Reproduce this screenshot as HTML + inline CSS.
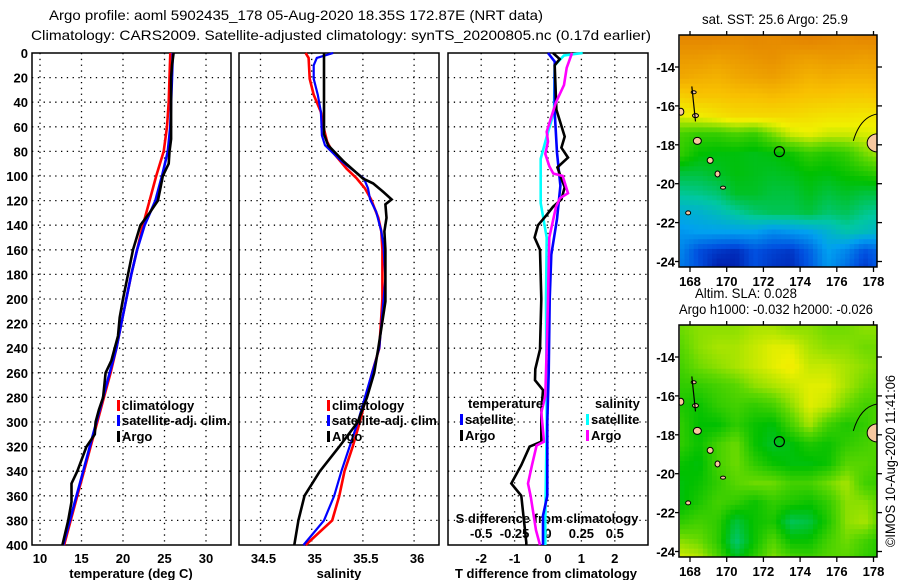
<!DOCTYPE html>
<html><head><meta charset="utf-8">
<style>
html,body{margin:0;padding:0;background:#fff;}
svg{display:block;font-family:"Liberation Sans",Arial,sans-serif;}
.t{font-size:13px;font-weight:bold;fill:#000;}
.ti{font-size:14px;fill:#000;}
</style></head>
<body>
<svg id="fig" width="900" height="580" viewBox="0 0 900 580" xmlns="http://www.w3.org/2000/svg">
<defs>
<clipPath id="clip-sst-map"><rect x="679" y="35" width="198" height="232"/></clipPath>
<clipPath id="clip-sla-map"><rect x="679" y="325" width="198" height="232"/></clipPath>
</defs>
<text class="ti" x="49" y="20" textLength="494" lengthAdjust="spacingAndGlyphs">Argo profile: aoml 5902435_178 05-Aug-2020 18.35S 172.87E (NRT data)</text>
<text class="ti" x="31" y="40" textLength="620" lengthAdjust="spacingAndGlyphs">Climatology: CARS2009. Satellite-adjusted climatology: synTS_20200805.nc (0.17d earlier)</text>
<text class="ti" x="702" y="24" textLength="146" lengthAdjust="spacingAndGlyphs">sat. SST: 25.6 Argo: 25.9</text>
<text class="ti" x="695" y="298" textLength="102" lengthAdjust="spacingAndGlyphs">Altim. SLA: 0.028</text>
<text class="ti" x="679" y="314" textLength="194" lengthAdjust="spacingAndGlyphs">Argo h1000: -0.032 h2000: -0.026</text>
<text class="ti" transform="translate(895,547) rotate(-90)" x="0" y="0" textLength="172" lengthAdjust="spacingAndGlyphs">©IMOS 10-Aug-2020 11:41:06</text>
<g id="plots"></g>
</svg>
<script>
// ---------- data ----------
const depthTicks=[0,20,40,60,80,100,120,140,160,180,200,220,240,260,280,300,320,340,360,380,400];
const tempTicks=[10,15,20,25,30];
const salTicks=[34.5,35,35.5,36];
const salTickLabels=["34.5","35","35.5","36"];
const tdiffTicks=[-2,-1,0,1,2];
const sdiffTicks=[-0.5,-0.25,0,0.25,0.5];
const sdiffTickLabels=["-0.5","-0.25","0","0.25","0.5"];

const tClimD=[0,20,40,60,80,100,120,140,160,180,200,220,240,260,280,300,320,340,360,380,400];
const tClimV=[25.7,25.6,25.5,25.3,24.9,24.0,23.2,22.4,21.7,21.0,20.4,19.8,19.2,18.5,17.7,16.9,16.1,15.3,14.5,13.7,12.9];
const tSatD=[0,20,40,60,80,100,120,140,160,180,200,220,240,260,280,300,320,340,360,380,400];
const tSatV=[26.0,25.9,25.8,25.7,25.4,24.7,23.9,22.6,21.7,21.0,20.4,19.8,19.2,18.4,17.6,16.8,16.0,15.2,14.4,13.6,12.8];
const tArgoD=[0,10,20,40,60,70,80,90,100,110,120,130,140,160,180,200,215,230,250,260,280,290,300,310,320,340,350,365,380,400];
const tArgoV=[26.1,25.9,25.8,25.8,25.8,25.8,25.6,25.5,24.8,24.5,24.2,23.2,22.1,21.2,20.6,20.0,19.6,19.4,18.6,17.9,17.6,17.1,16.7,16.6,15.6,14.5,13.8,13.8,13.4,12.7];

const sClimD=[0,4,21,34,48,62,72,80,94,102,110,119,134,145,160,200,240,260,280,300,320,340,360,380,400];
const sClimV=[34.94,34.97,34.98,35.02,35.09,35.12,35.15,35.2,35.34,35.44,35.52,35.58,35.65,35.68,35.69,35.69,35.66,35.59,35.53,35.47,35.40,35.32,35.27,35.2,34.94];
const sSatD=[0,4,10,21,34,48,67,75,88,102,110,119,129,145,156,183,202,240,260,280,300,320,340,360,380,400];
const sSatV=[35.21,35.05,35.02,35.02,35.06,35.09,35.1,35.13,35.29,35.51,35.55,35.57,35.63,35.68,35.70,35.72,35.70,35.66,35.59,35.52,35.45,35.37,35.29,35.22,35.12,34.92];
const sArgoD=[0,66,75,88,102,106,113,119,123,134,145,160,202,240,260,280,300,320,340,360,380,400];
const sArgoV=[35.12,35.12,35.16,35.31,35.5,35.6,35.7,35.78,35.72,35.73,35.71,35.72,35.72,35.65,35.61,35.54,35.45,35.27,35.08,34.93,34.87,34.83];

const dtArgoD=[0,5,10,46,68,77,85,93,102,109,119,125,132,140,150,160,200,241,257,266,274,292,316,320,335,350,360,373,385,398,400];
const dtArgoV=[0.15,0.35,0.2,0.25,0.5,0.4,0.6,0.28,0.4,0.5,0.4,0.15,-0.05,-0.3,-0.4,-0.24,-0.2,-0.24,-0.38,-0.39,-0.15,-0.2,-0.2,-0.55,-0.8,-1.1,-0.8,-0.75,-0.7,-0.65,-0.65];
const dtSatD=[0,7,48,81,108,135,164,200,260,300,360,376,400];
const dtSatV=[0,0.2,0.2,0.27,0.37,0.27,0.1,0.05,0.02,-0.02,-0.02,-0.15,-0.15];
const dsSatD=[0,2,10,48,68,86,122,150,200,300,380,400];
const dsSatV=[0.26,0.12,0.05,0.045,-0.01,-0.055,-0.055,-0.01,-0.015,-0.01,-0.02,-0.02];
const dsArgoD=[0,12,26,40,64,72,82,92,98,100,114,118,125,150,200,240,279,292,316,319,335,350,360,388,400];
const dsArgoV=[0.18,0.14,0.12,0.06,-0.01,0.0,-0.02,0.01,0.04,0.11,0.15,0.09,0.06,0.01,0.0,-0.01,-0.02,-0.05,-0.03,-0.085,-0.12,-0.15,-0.13,-0.09,-0.06];

const sstGrid=[
[.97,.97,.97,.96,.97,.96,.97,.98,.97,.96,.97,.97],
[.93,.93,.92,.93,.94,.95,.93,.92,.93,.93,.92,.93],
[.9,.89,.88,.9,.91,.92,.9,.88,.89,.88,.88,.89],
[.82,.84,.84,.85,.85,.86,.85,.84,.84,.83,.83,.84],
[.74,.76,.78,.8,.8,.8,.8,.79,.78,.78,.77,.78],
[.62,.6,.6,.62,.6,.66,.72,.74,.72,.72,.73,.74],
[.6,.55,.54,.54,.53,.54,.56,.6,.58,.6,.66,.7],
[.5,.5,.52,.54,.53,.52,.53,.55,.54,.56,.58,.6],
[.43,.44,.46,.52,.52,.5,.5,.53,.5,.52,.5,.5],
[.34,.35,.38,.42,.46,.48,.48,.5,.46,.48,.44,.42],
[.28,.3,.3,.3,.3,.26,.28,.3,.35,.4,.38,.35],
[.25,.14,.1,.08,.15,.12,.1,.18,.3,.25,.15,.2],
[.22,.15,.05,.06,.15,.1,.08,.16,.28,.2,.1,.18]];
const slaGrid=[
[.66,.68,.68,.68,.7,.7,.68,.68,.66,.66,.68,.68],
[.64,.68,.7,.7,.72,.74,.74,.70,.68,.68,.66,.66],
[.62,.66,.68,.7,.72,.74,.76,.72,.72,.7,.68,.66],
[.6,.6,.62,.64,.68,.7,.72,.74,.74,.7,.66,.64],
[.58,.56,.6,.62,.6,.62,.68,.74,.72,.66,.62,.62],
[.6,.55,.55,.6,.56,.54,.62,.7,.62,.58,.6,.64],
[.6,.56,.62,.66,.56,.52,.54,.58,.56,.6,.62,.64],
[.56,.54,.62,.66,.6,.56,.54,.54,.56,.64,.64,.62],
[.54,.56,.6,.64,.66,.66,.62,.62,.66,.7,.62,.6],
[.54,.58,.62,.6,.56,.6,.58,.56,.6,.68,.68,.64],
[.6,.62,.6,.5,.56,.58,.48,.5,.58,.68,.7,.64],
[.68,.66,.6,.46,.56,.64,.56,.56,.62,.66,.62,.58],
[.74,.72,.64,.54,.6,.68,.64,.62,.64,.64,.6,.58]];
const floatLon=[172.87];
const floatLat=[-18.35];
const mapLatTicks=[-14,-16,-18,-20,-22,-24];
const mapLonTicks=[168,170,172,174,176,178];

// ---------- helpers ----------
const NS='http://www.w3.org/2000/svg';
const root=document.getElementById('plots');
function mk(tag,attrs,parent){const e=document.createElementNS(NS,tag);for(const k in attrs)e.setAttribute(k,attrs[k]);(parent||root).appendChild(e);return e;}
const Y0=53,YS=1.23;
const yD=d=>Y0+d*YS;
const xT=t=>40+(t-10)*8.3;
const xS=s=>311.7+(s-35)*102.4;
const xDT=t=>548+t*33.4;
const xDS=s=>548+s*133.6;

function panel(x0,x1,xticks,xf,name){
  const g=mk('g',{});
  
  
  depthTicks.forEach(d=>{if(d>0&&d<400){const l=mk('line',{x1:x0,x2:x1,y1:yD(d),y2:yD(d),stroke:'#000','stroke-width':1.3,'stroke-dasharray':'1.3,4.5'},g);
    }});
  xticks.forEach(v=>{const x=xf(v);const l=mk('line',{x1:x,x2:x,y1:yD(0),y2:yD(400),stroke:'#000','stroke-width':1.3,'stroke-dasharray':'1.3,4.5'},g);
    });
  const r=mk('rect',{x:x0,y:yD(0),width:x1-x0,height:yD(400)-yD(0),fill:'none',stroke:'#000','stroke-width':1.5},g);
  
  return g;
}
function line(D,V,xf,color,name,w){
  const pts=D.map((d,i)=>xf(V[i]).toFixed(1)+','+yD(d).toFixed(1)).join(' ');
  const p=mk('polyline',{points:pts,fill:'none',stroke:color,'stroke-width':w||2.6,'stroke-linejoin':'miter'});
  
  
}
function txt(x,y,s,anchor,name,cls){
  const t=mk('text',{x:x,y:y,'text-anchor':anchor||'start',class:cls||'t'});
  t.textContent=s;
  
  
  return t;
}
function legend(x,y,color,label){
  const r=mk('rect',{x:x,y:y-10,width:3,height:11,fill:color});
  
  
  txt(x+5,y,label,'start','legend-entry');
}

depthTicks.forEach(d=>txt(28,yD(d)+5,String(d),'end','y-tick-label'));

// panel 1 temperature
panel(32,231,tempTicks,xT,'temperature-panel');
tempTicks.forEach(v=>txt(xT(v),563,String(v),'middle','temp-tick-label'));
txt(131,578,'temperature (deg C)','middle','temp-axis-title');
line(tClimD,tClimV,xT,'#ff0000','temp-climatology-line');
line(tSatD,tSatV,xT,'#0000ff','temp-satellite-line');
line(tArgoD,tArgoV,xT,'#000000','temp-argo-line');
legend(117,410,'#ff0000','climatology');
legend(117,425,'#0000ff','satellite-adj. clim.');
legend(117,441,'#000000','Argo');

// panel 2 salinity
panel(239,439,salTicks,xS,'salinity-panel');
salTicks.forEach((v,i)=>txt(xS(v)+3,563,salTickLabels[i],'middle','sal-tick-label'));
txt(339,578,'salinity','middle','sal-axis-title');
line(sClimD,sClimV,xS,'#ff0000','sal-climatology-line');
line(sSatD,sSatV,xS,'#0000ff','sal-satellite-line',2.2);
line(sArgoD,sArgoV,xS,'#000000','sal-argo-line');
legend(327,410,'#ff0000','climatology');
legend(327,425,'#0000ff','satellite-adj. clim.');
legend(327,441,'#000000','Argo');

// panel 3 differences
panel(448,648,tdiffTicks,xDT,'difference-panel');
tdiffTicks.forEach(v=>txt(xDT(v),563,String(v),'middle','tdiff-tick-label'));
txt(546,578,'T difference from climatology','middle','tdiff-axis-title');
sdiffTicks.forEach((v,i)=>txt(xDS(v),538,sdiffTickLabels[i],'middle','sdiff-tick-label'));
txt(547,523,'S difference from climatology','middle','sdiff-axis-title');
line(dsSatD,dsSatV,xDS,'#00ffff','sdiff-satellite-line');
line(dtSatD,dtSatV,xDT,'#0000ff','tdiff-satellite-line');
line(dtArgoD,dtArgoV,xDT,'#000000','tdiff-argo-line');
line(dsArgoD,dsArgoV,xDS,'#ff00ff','sdiff-argo-line');
txt(468,408,'temperature','start','legend-temperature-heading');
txt(595,408,'salinity','start','legend-salinity-heading');
legend(460,424,'#0000ff','satellite');
legend(460,440,'#000000','Argo');
legend(586,424,'#00ffff','satellite');
legend(586,440,'#ff00ff','Argo');

// ---------- maps ----------
const cmapStops=[[0,[0,0,140]],[0.15,[0,80,224]],[0.3,[0,160,240]],[0.42,[0,200,160]],[0.55,[0,192,0]],[0.65,[96,216,0]],[0.75,[240,240,0]],[0.85,[248,192,0]],[1,[224,120,0]]];
function cmap(v){
  for(let i=1;i<cmapStops.length;i++){if(v<=cmapStops[i][0]){const a=cmapStops[i-1],b=cmapStops[i];const f=(v-a[0])/(b[0]-a[0]);
    return 'rgb('+a[1].map((c,k)=>Math.round(c+(b[1][k]-c)*f)).join(',')+')';}}
  return 'rgb(224,120,0)';
}
function interp(grid,lat,lon){
  let fi=(-12.5-lat),fj=(lon-167.5);
  fi=Math.max(0,Math.min(12,fi));fj=Math.max(0,Math.min(11,fj));
  const i=Math.min(11,Math.floor(fi)),j=Math.min(10,Math.floor(fj));const a=fi-i,b=fj-j;
  return grid[i][j]*(1-a)*(1-b)+grid[i+1][j]*a*(1-b)+grid[i][j+1]*(1-a)*b+grid[i+1][j+1]*a*b;
}
function drawMap(grid,top,bottom,name){
  const left=679,right=877;
  const lonX=lon=>690+(lon-168)*18.35;
  const lat14=top+32;
  const latY=lat=>lat14+(-14-lat)*19.45;
  const g=mk('g',{});
  
  
  const inner=mk('g',{'clip-path':'url(#clip-'+name+')'},g);
  const cs=0.25;
  const lon0=167.45;
  for(let lat=-14+(lat14-top)/19.45; lat>-14-(bottom-lat14)/19.45; lat-=cs){
    for(let lon=lon0; lon<178.3; lon+=cs){
      const x=lonX(lon),y=latY(lat);
      const v=interp(grid,lat-cs/2,lon+cs/2);
      const w=Math.min(lonX(lon+cs),right)-x, h=Math.min(latY(lat-cs),bottom)-y;
      if(w>0&&h>0){const r=mk('rect',{x:x.toFixed(2),y:y.toFixed(2),width:(w+0.4).toFixed(2),height:(h+0.4).toFixed(2),fill:cmap(v)},inner);
        }
    }
  }
  const isl=[[178.2,-17.9,10,9],[168.4,-17.8,4,3.5],[169.1,-18.8,3,3],[169.5,-19.5,2.5,3],[167.5,-16.3,3,3.5],[168.2,-15.3,2.5,1.5],[169.8,-20.2,2.5,1.5],[167.9,-21.5,2.5,2],[168.3,-16.5,3,2]];
  isl.forEach(s=>{const e=mk('ellipse',{cx:lonX(s[0]),cy:latY(s[1]),rx:s[2],ry:s[3],fill:'#f8c8a0',stroke:'#000','stroke-width':1},inner);
    });
  mk('path',{d:`M${lonX(176.9)} ${latY(-17.8)} Q ${lonX(177.3)} ${latY(-16.5)} ${lonX(178.3)} ${latY(-16.4)}`,fill:'none',stroke:'#000','stroke-width':1},inner);
  mk('line',{x1:lonX(168.1),x2:lonX(168.3),y1:latY(-15),y2:latY(-16.8),stroke:'#000','stroke-width':1.2},inner);
  const c=mk('circle',{cx:lonX(floatLon[0]),cy:latY(floatLat[0]),r:5,fill:'none',stroke:'#000','stroke-width':1.2},g);
  
  const f=mk('rect',{x:left,y:top,width:right-left,height:bottom-top,fill:'none',stroke:'#000','stroke-width':1.5},g);
  
  mapLonTicks.forEach(lon=>{const x=lonX(lon);
    mk('line',{x1:x,x2:x,y1:top-4,y2:top,stroke:'#000','stroke-width':1.3},g);
    mk('line',{x1:x,x2:x,y1:bottom,y2:bottom+5,stroke:'#000','stroke-width':1.3},g);
    txt(x,bottom+19,String(lon),'middle','map-lon-label');});
  mapLatTicks.forEach(lat=>{const y=latY(lat);
    mk('line',{x1:right,x2:right+5,y1:y,y2:y,stroke:'#000','stroke-width':1.3},g);
    mk('line',{x1:left-4,x2:left,y1:y,y2:y,stroke:'#000','stroke-width':1.3},g);
    txt(675,y+5,String(lat),'end','map-lat-label');});
}
drawMap(sstGrid,35,267,'sst-map');
drawMap(slaGrid,325,557,'sla-map');
</script>
</body></html>
